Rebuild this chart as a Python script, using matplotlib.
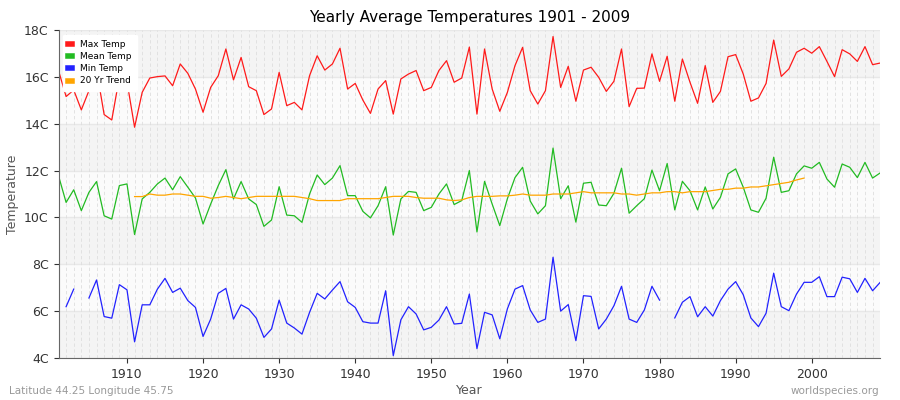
import numpy as np
import matplotlib.pyplot as plt

years = np.arange(1901, 2010)

max_temp = [16.27, 15.16, 15.44, 14.59, 15.41, 16.3, 14.39, 14.16, 15.98, 15.8,
            13.85, 15.34, 15.95, 16.01, 16.04, 15.62, 16.55, 16.15, 15.48, 14.49,
            15.55, 16.05, 17.19, 15.87, 16.83, 15.58, 15.41, 14.39, 14.63, 16.19,
            14.77, 14.91, 14.59, 16.05, 16.9, 16.29, 16.55, 17.22, 15.48, 15.72,
            15.01, 14.44, 15.48, 15.84, 14.41, 15.91, 16.12, 16.27, 15.41, 15.55,
            16.27, 16.69, 15.77, 15.95, 17.27, 14.41, 17.19, 15.48, 14.53, 15.34,
            16.48, 17.26, 15.41, 14.84, 15.41, 17.72, 15.55, 16.45, 14.96, 16.29,
            16.41, 15.98, 15.38, 15.81, 17.19, 14.73, 15.51, 15.52, 16.98, 15.81,
            16.88, 14.96, 16.76, 15.77, 14.87, 16.48, 14.91, 15.38, 16.86, 16.95,
            16.12, 14.96, 15.1, 15.72, 17.57, 16.02, 16.34, 17.05, 17.22, 17.01,
            17.29, 16.66, 16.01, 17.16, 16.98, 16.66, 17.29, 16.52, 16.59]

mean_temp = [11.78, 10.64, 11.18, 10.29, 11.07, 11.53, 10.07, 9.93, 11.36, 11.43,
             9.27, 10.79, 11.07, 11.43, 11.68, 11.18, 11.74, 11.29, 10.83, 9.72,
             10.57, 11.36, 12.04, 10.79, 11.53, 10.79, 10.55, 9.62, 9.89, 11.31,
             10.1, 10.07, 9.79, 11.0, 11.81, 11.4, 11.68, 12.21, 10.93, 10.93,
             10.26, 9.98, 10.5, 11.31, 9.25, 10.79, 11.11, 11.07, 10.29, 10.43,
             11.0, 11.43, 10.55, 10.72, 12.0, 9.38, 11.54, 10.57, 9.65, 10.8,
             11.7, 12.14, 10.7, 10.15, 10.5, 12.96, 10.8, 11.35, 9.8, 11.46,
             11.5, 10.53, 10.5, 11.03, 12.1, 10.18, 10.5, 10.8, 12.02, 11.14,
             12.3, 10.32, 11.54, 11.14, 10.32, 11.3, 10.36, 10.86, 11.86, 12.07,
             11.29, 10.32, 10.22, 10.82, 12.57, 11.07, 11.14, 11.86, 12.2, 12.1,
             12.35, 11.64, 11.29, 12.28, 12.14, 11.7, 12.35, 11.68, 11.9]

min_temp = [np.nan, 6.19, 6.94, np.nan, 6.56, 7.33, 5.77, 5.7, 7.13, 6.91,
            4.69, 6.27, 6.27, 6.94, 7.4, 6.8, 6.98, 6.45, 6.16, 4.92,
            5.66, 6.76, 6.97, 5.66, 6.27, 6.09, 5.7, 4.88, 5.24, 6.47,
            5.49, 5.28, 5.02, 5.95, 6.76, 6.52, 6.9, 7.26, 6.4, 6.16,
            5.55, 5.49, 5.49, 6.87, 4.1, 5.63, 6.19, 5.88, 5.2, 5.31,
            5.62, 6.19, 5.45, 5.48, 6.73, 4.4, 5.95, 5.84, 4.82, 6.1,
            6.94, 7.09, 6.05, 5.52, 5.66, 8.3, 6.0, 6.28, 4.74, 6.66,
            6.63, 5.24, 5.66, 6.23, 7.06, 5.66, 5.52, 6.05, 7.06, 6.47,
            np.nan, 5.71, 6.38, 6.62, 5.76, 6.19, 5.79, 6.45, 6.94, 7.26,
            6.7, 5.71, 5.34, 5.91, 7.62, 6.19, 6.02, 6.73, 7.23, 7.23,
            7.47, 6.62, 6.62, 7.45, 7.38, 6.8, 7.4, 6.87, 7.23]

trend_years = np.arange(1911, 2000)
trend = [10.89, 10.89, 11.0, 10.95, 10.95, 11.0, 11.0, 10.95, 10.9, 10.9,
         10.82, 10.85, 10.9, 10.85, 10.8, 10.85, 10.9, 10.9, 10.9, 10.9,
         10.9, 10.9, 10.85, 10.8, 10.72, 10.72, 10.72, 10.72, 10.8, 10.8,
         10.8, 10.8, 10.8, 10.85, 10.9, 10.9, 10.9, 10.85, 10.82, 10.82,
         10.82, 10.75, 10.72, 10.75, 10.85, 10.9, 10.9, 10.9, 10.92, 10.92,
         10.95, 11.0, 10.95, 10.95, 10.95, 11.0, 11.0, 11.0, 11.05, 11.1,
         11.05, 11.05, 11.05, 11.05, 11.0, 11.0, 10.95, 11.0, 11.05, 11.05,
         11.1, 11.1, 11.05, 11.1, 11.1, 11.1, 11.15, 11.2, 11.2, 11.25,
         11.25, 11.3, 11.3, 11.35, 11.4, 11.45, 11.5, 11.6, 11.68]

fig, ax = plt.subplots(figsize=(9, 4), dpi=100)
fig.subplots_adjust(left=0.065, right=0.978, top=0.925, bottom=0.105)

for lo in range(4, 18, 2):
    ax.axhspan(lo, lo + 2, color='#f4f4f4' if (lo // 2) % 2 == 0 else '#fbfbfb', zorder=0, lw=0)
for yv in range(4, 19, 2):
    ax.axhline(yv, color='#e8e8e8', lw=1, zorder=0.5)
for yr in years:
    ax.axvline(yr, color='#dedede', lw=0.6, ls=(0, (4, 3)), zorder=0.5)

ax.plot(years, max_temp, color='#ff1a1a', lw=0.9, label='Max Temp')
ax.plot(years, mean_temp, color='#22bb22', lw=0.9, label='Mean Temp')
ax.plot(years, min_temp, color='#2222ff', lw=0.9, label='Min Temp')
ax.plot(trend_years, trend, color='#ffa500', lw=0.9, label='20 Yr Trend')

ax.set_xlim(1901, 2009)
ax.set_ylim(4, 18)
ax.set_yticks(range(4, 19, 2))
ax.set_yticklabels([f'{v}C' for v in range(4, 19, 2)])
ax.set_xticks(range(1910, 2001, 10))
for s in ['top', 'right']:
    ax.spines[s].set_visible(False)
for s in ['left', 'bottom']:
    ax.spines[s].set_color('#666666')
ax.tick_params(colors='#333333', labelsize=9)
ax.set_title('Yearly Average Temperatures 1901 - 2009', fontsize=11)
ax.set_xlabel('Year', fontsize=9, color='#555555', labelpad=2)
ax.set_ylabel('Temperature', fontsize=9, color='#555555')

leg = ax.legend(loc='upper left', fontsize=6.5, handlelength=0.4, handleheight=0.5,
                frameon=True, framealpha=1, borderpad=0.6, labelspacing=0.35,
                handletextpad=0.9, borderaxespad=0.5)
leg.get_frame().set_edgecolor('white')
for h in leg.legend_handles:
    h.set_linewidth(4)

fig.text(0.01, 0.015, 'Latitude 44.25 Longitude 45.75', fontsize=7.5, color='#999999')
fig.text(0.977, 0.015, 'worldspecies.org', fontsize=7.5, color='#999999', ha='right')

fig.savefig('out.png')
